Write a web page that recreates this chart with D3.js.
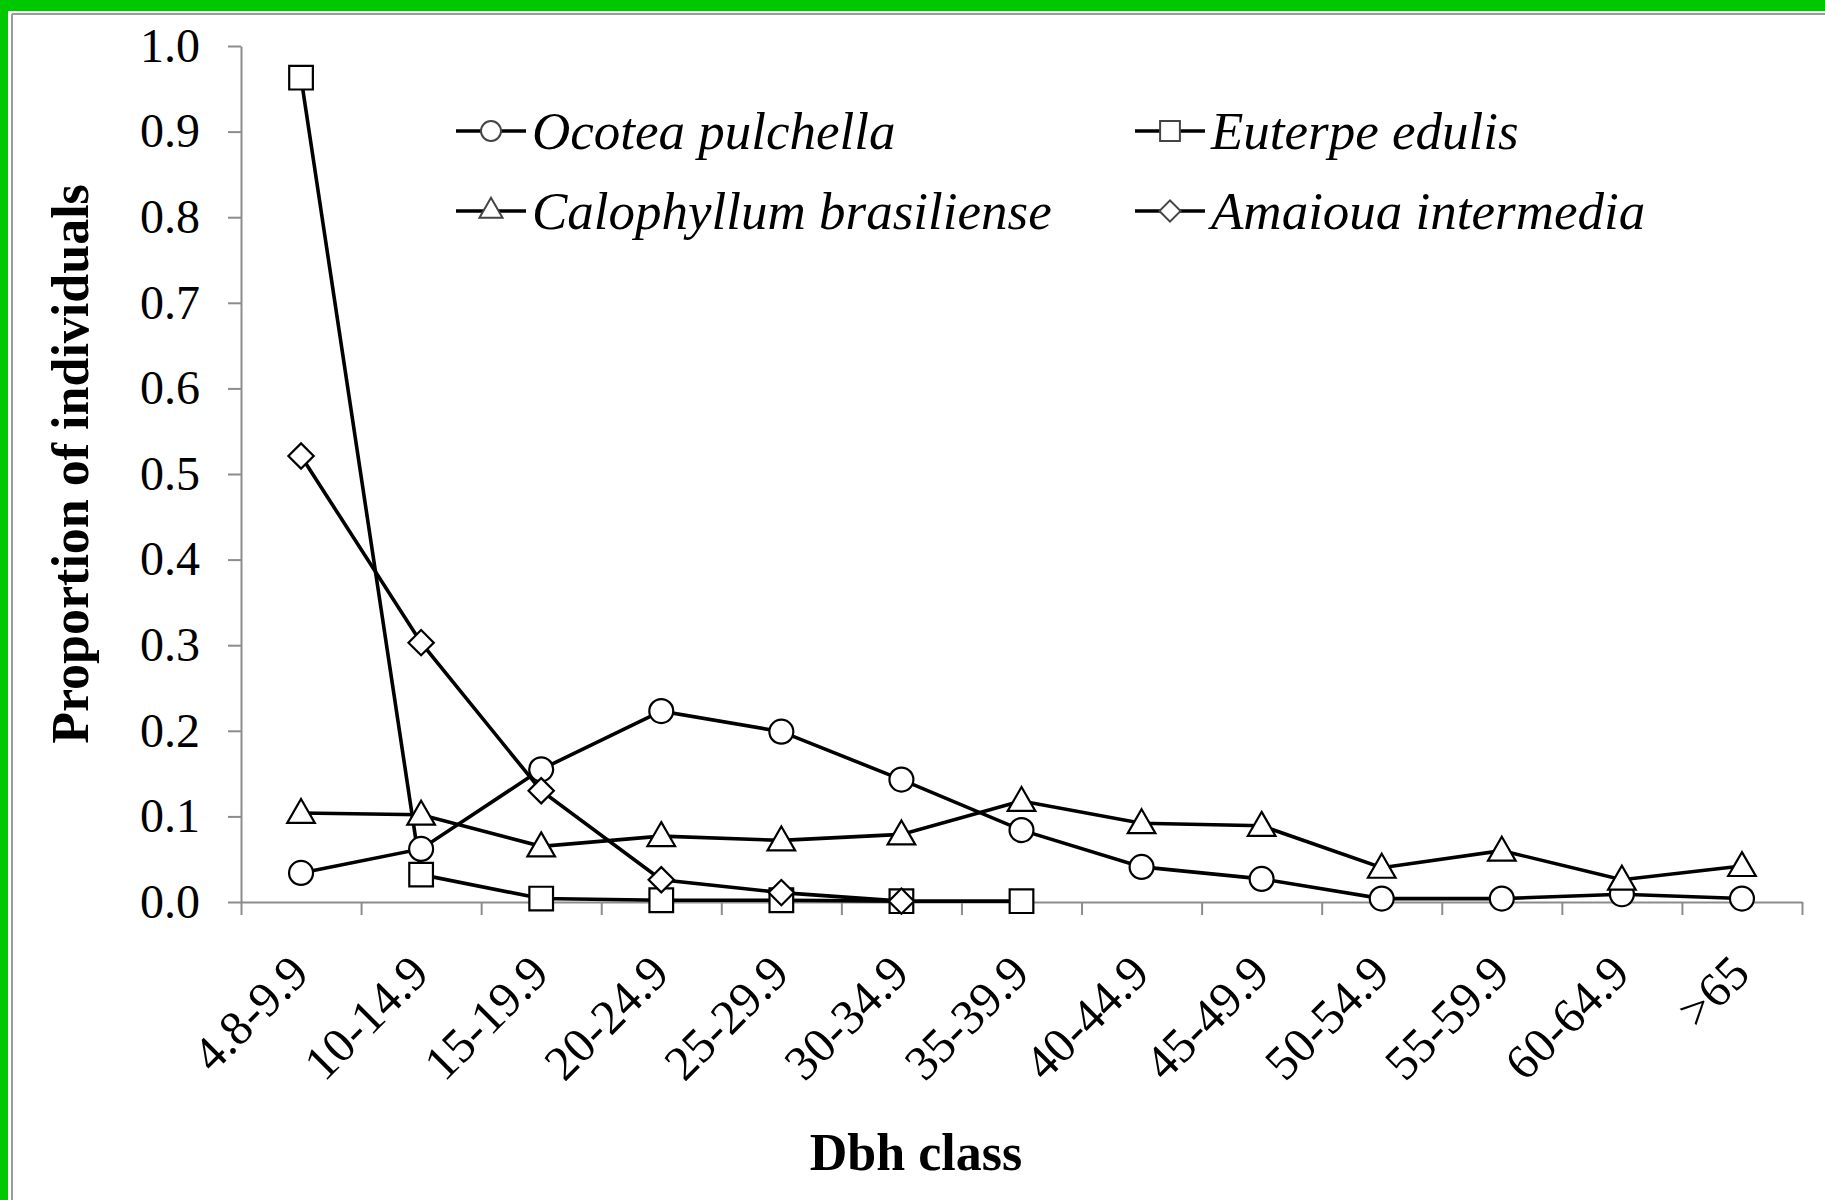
<!DOCTYPE html>
<html>
<head>
<meta charset="utf-8">
<script src="https://cdn.jsdelivr.net/npm/d3@7"></script>
<style>
  body { margin: 0; background: #fff; }
  .axis path, .axis line { stroke: #8c8c8c; stroke-width: 2px; }
  .axis text { font-family: "Liberation Serif", "Times New Roman", serif; font-size: 48px; fill: #000; }
  .series { fill: none; stroke: #000; stroke-width: 3.6px; }
  .marker { fill: #fff; stroke: #000; stroke-width: 2.2px; }
</style>
</head>
<body>
<script>
// dbh classes and proportions
var categories = ["4.8-9.9", "10-14.9", "15-19.9", "20-24.9", "25-29.9", "30-34.9",
                  "35-39.9", "40-44.9", "45-49.9", "50-54.9", "55-59.9", "60-64.9", ">65"];
var ocotea = [0.034, 0.062, 0.155, 0.223, 0.199, 0.143, 0.084, 0.041, 0.027, 0.004, 0.004, 0.009, 0.004];
var euterpe = [0.963, 0.032, 0.004, 0.002, 0.002, 0.001, 0.001];
var calophyllum = [0.104, 0.102, 0.065, 0.077, 0.072, 0.079, 0.118, 0.092, 0.089, 0.040, 0.060, 0.026, 0.042];
var amaioua = [0.521, 0.303, 0.130, 0.026, 0.011, 0.001];
var yTicks = [0, 0.1, 0.2, 0.3, 0.4, 0.5, 0.6, 0.7, 0.8, 0.9, 1.0];

var seriesNames = ["Ocotea pulchella", "Euterpe edulis", "Calophyllum brasiliense", "Amaioua intermedia"];
var seriesValues = [ocotea, euterpe, calophyllum, amaioua];
// diamond is drawn as a square turned 45 degrees, like the spreadsheet marker
var seriesSymbols = [d3.symbolCircle, d3.symbolSquare, d3.symbolTriangle, d3.symbolSquare];
var symbolRotate = [0, 0, 0, 45];
var symbolSizes = [450, 560, 330, 320];

var width = 1825,
    height = 1200;

var svg = d3.select("body")
    .append("svg")
    .attr("width", width)
    .attr("height", height);

// green frame on top and left, thin grey line inside it
svg.append("rect").attr("x", 0).attr("y", 0).attr("width", width).attr("height", 11).attr("fill", "#00c800");
svg.append("rect").attr("x", 0).attr("y", 0).attr("width", 8).attr("height", height).attr("fill", "#00c800");
svg.append("line").attr("x1", 12).attr("x2", width).attr("y1", 14).attr("y2", 14)
    .attr("stroke", "#9a9a9a").attr("stroke-width", 2);
svg.append("line").attr("x1", 12).attr("x2", 12).attr("y1", 14).attr("y2", height)
    .attr("stroke", "#9a9a9a").attr("stroke-width", 2);

var x = d3.scaleBand()
    .domain(categories)
    .range([241, 1802]);

var xEdge = d3.scaleLinear()
    .domain([0, categories.length])
    .range([241, 1802]);

var y = d3.scaleLinear()
    .domain([0, 1])
    .range([902, 46]);

function cx(i) { return x(categories[i]) + x.bandwidth() / 2; }

// y axis
svg.append("g")
    .attr("class", "axis")
    .attr("transform", "translate(241,0)")
    .call(d3.axisLeft(y).tickValues(yTicks).tickFormat(d3.format(".1f"))
        .tickSize(13).tickSizeOuter(0).tickPadding(28));

// x axis, ticks between the classes
svg.append("g")
    .attr("class", "axis")
    .attr("transform", "translate(0,902)")
    .call(d3.axisBottom(xEdge).tickValues(d3.range(categories.length + 1))
        .tickFormat("").tickSize(13).tickSizeOuter(0));

svg.selectAll(".xlabel")
    .data(categories)
    .enter()
    .append("text")
    .attr("class", "xlabel")
    .attr("transform", function(d, i) { return "translate(" + (cx(i) + 10) + ",976) rotate(-45)"; })
    .attr("text-anchor", "end")
    .style("font-family", "'Liberation Serif', 'Times New Roman', serif")
    .style("font-size", "49px")
    .text(function(d) { return d; });

// axis titles
svg.append("text")
    .attr("transform", "translate(88,464) rotate(-90)")
    .attr("text-anchor", "middle")
    .style("font-family", "'Liberation Serif', 'Times New Roman', serif")
    .style("font-weight", "bold")
    .style("font-size", "52px")
    .text("Proportion of individuals");

svg.append("text")
    .attr("x", 916)
    .attr("y", 1170)
    .attr("text-anchor", "middle")
    .style("font-family", "'Liberation Serif', 'Times New Roman', serif")
    .style("font-weight", "bold")
    .style("font-size", "52px")
    .text("Dbh class");

// lines
var line = d3.line()
    .x(function(d, i) { return cx(i); })
    .y(function(d) { return y(d); });

seriesValues.forEach(function(vals, s) {
    svg.append("path")
        .datum(vals)
        .attr("class", "series")
        .attr("d", line);
});

// markers
seriesValues.forEach(function(vals, s) {
    var sym = d3.symbol().type(seriesSymbols[s]).size(symbolSizes[s]);
    svg.selectAll(".m" + s)
        .data(vals)
        .enter()
        .append("path")
        .attr("class", "marker m" + s)
        .attr("transform", function(d, i) {
            var dy = seriesSymbols[s] === d3.symbolTriangle ? 2 : 0;
            return "translate(" + cx(i) + "," + (y(d) + dy) + ") rotate(" + symbolRotate[s] + ")";
        })
        .attr("d", sym);
});

// legend, two columns
var legendX = [456, 1135],
    legendY = [131, 211];

var legend = svg.selectAll(".legend")
    .data(seriesNames)
    .enter()
    .append("g")
    .attr("class", "legend")
    .attr("transform", function(d, i) {
        return "translate(" + legendX[i % 2] + "," + legendY[Math.floor(i / 2)] + ")";
    });

legend.append("line")
    .attr("x1", 0).attr("x2", 70)
    .attr("stroke", "#000").attr("stroke-width", 3.6);

legend.append("path")
    .attr("transform", function(d, i) { return "translate(35,0) rotate(" + symbolRotate[i] + ")"; })
    .attr("fill", "#fff")
    .attr("stroke", "#444")
    .attr("stroke-width", 2)
    .attr("d", function(d, i) {
        return d3.symbol().type(seriesSymbols[i]).size(symbolSizes[i] * 0.7)();
    });

legend.append("text")
    .attr("x", 76)
    .attr("dy", "0.33em")
    .style("font-family", "'Liberation Serif', 'Times New Roman', serif")
    .style("font-style", "italic")
    .style("font-size", "53px")
    .text(function(d) { return d; });
</script>
</body>
</html>
